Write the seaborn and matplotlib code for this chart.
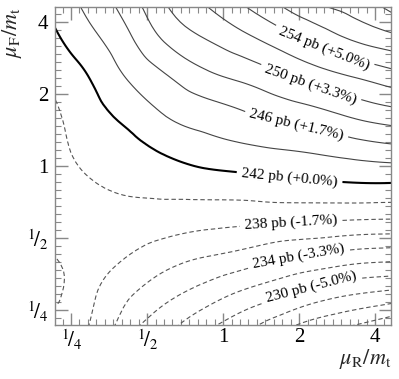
import numpy as np
import matplotlib
matplotlib.use("Agg")
import matplotlib.pyplot as plt
import matplotlib.tri as mtri
from matplotlib.ticker import FixedLocator, FixedFormatter, NullFormatter
import seaborn as sns

# ---- data ----
# grid positions: log2(mu/m_t)
log2_muR = [-2.25, -1.75, -1.25, -0.75, -0.25, 0.25, 0.75, 1.25, 1.75, 2.25]
log2_muF = [-2.25, -1.75, -1.25, -0.75, -0.25, 0.25, 0.75, 1.25, 1.75, 2.25]
# cross section [pb], one row per muF value (low -> high), columns muR low -> high
sigma_muF_m225 = [238.6, 237.9, 234.7, 232.5, 230.4, 228.6, 226.5, 224.75, 223.6, 222.0]
sigma_muF_m175 = [240.6, 238.4, 236.4, 234.7, 233.3, 231.85, 230.6, 229.25, 228.3, 227.7]
sigma_muF_m125 = [240.05, 238.9, 238.0, 236.9, 236.1, 235.4, 234.4, 233.75, 233.1, 232.8]
sigma_muF_m075 = [239.4, 239.4, 239.2, 239.0, 238.7, 238.5, 238.35, 238.2, 238.0, 237.9]
sigma_muF_m025 = [239.5, 239.9, 240.4, 240.7, 241.0, 241.2, 241.5, 241.7, 241.9, 241.9]
sigma_muF_p025 = [239.4, 240.6, 241.4, 242.4, 243.2, 243.7, 244.1, 244.5, 245.1, 245.6]
sigma_muF_p075 = [239.6, 241.3, 242.7, 244.2, 245.1, 245.9, 246.8, 247.6, 248.7, 249.5]
sigma_muF_p125 = [240.5, 242.1, 244.2, 245.9, 247.5, 248.5, 249.75, 251.1, 252.2, 253.3]
sigma_muF_p175 = [241.5, 243.4, 245.6, 248.25, 249.9, 251.3, 252.9, 254.6, 256.2, 257.3]
sigma_muF_p225 = [242.5, 244.6, 247.0, 250.0, 252.0, 254.0, 256.1, 258.0, 259.0, 261.0]

central = 242
levels_below_plain = [220, 222, 224, 226, 228, 232, 236, 240]
levels_below_label = [230, 234, 238]
levels_central = [242]
levels_above_plain = [244, 248, 252, 256, 258, 260, 262]
levels_above_label = [246, 250, 254]
tick_values = [0.25, 0.5, 1, 2, 4]
tick_labels = [r'$^{1}\!/_{4}$', r'$^{1}\!/_{2}$', '1', '2', '4']

# ---- style ----
sns.set_theme(style="ticks")
plt.rcParams['font.family'] = ['Liberation Serif', 'DejaVu Serif']
plt.rcParams['mathtext.fontset'] = 'stix'
plt.rcParams['lines.dashed_pattern'] = [4.0, 2.5]

Z = np.array([sigma_muF_m225, sigma_muF_m175, sigma_muF_m125, sigma_muF_m075,
              sigma_muF_m025, sigma_muF_p025, sigma_muF_p075, sigma_muF_p125,
              sigma_muF_p175, sigma_muF_p225])
U, V = np.meshgrid(log2_muR, log2_muF)
tri = mtri.Triangulation(U.ravel(), V.ravel())
refiner = mtri.UniformTriRefiner(tri)
tri_ref, z_ref = refiner.refine_field(Z.ravel(), subdiv=3)
tri_plot = mtri.Triangulation(2.0 ** tri_ref.x, 2.0 ** tri_ref.y, tri_ref.triangles)

fig = plt.figure(figsize=(3.99, 3.79), dpi=100)
ax = fig.add_axes([55 / 399, 1 - 325 / 379, 336 / 399, 318 / 379])
ax.set_xscale('log', base=2)
ax.set_yscale('log', base=2)

dash_kw = dict(colors='#555555', linewidths=0.8, linestyles='dashed')
solid_kw = dict(colors='#444444', linewidths=0.8, linestyles='solid')
ax.tricontour(tri_plot, z_ref, levels=levels_below_plain, **dash_kw)
cs_below = ax.tricontour(tri_plot, z_ref, levels=levels_below_label, **dash_kw)
ax.tricontour(tri_plot, z_ref, levels=levels_above_plain, **solid_kw)
cs_above = ax.tricontour(tri_plot, z_ref, levels=levels_above_label, **solid_kw)
cs_c = ax.tricontour(tri_plot, z_ref, levels=levels_central, colors='black',
                     linewidths=1.5, linestyles='solid')

def fmt(lev):
    return f"{lev:.0f} pb ({(lev - central) / central * 100:+.1f}%)"

lab_kw = dict(fontsize=11, inline=True, inline_spacing=4, colors='black', fmt=fmt)
ax.clabel(cs_above, manual=[(1.93, 1.39), (2.17, 2.04), (2.47, 2.99)], **lab_kw)
ax.clabel(cs_c, manual=[(1.83, 0.88)], **lab_kw)
ax.clabel(cs_below, manual=[(2.25, 0.306), (2.0, 0.416), (1.86, 0.577)], **lab_kw)

ax.set_xlim(0.216, 4.62)
ax.set_ylim(0.216, 4.62)

minor = [2.0 ** (k / 9) for k in range(-20, 21) if k % 9 != 0]
for axis in (ax.xaxis, ax.yaxis):
    axis.set_major_locator(FixedLocator(tick_values))
    axis.set_major_formatter(FixedFormatter(tick_labels))
    axis.set_minor_locator(FixedLocator(minor))
    axis.set_minor_formatter(NullFormatter())

ax.tick_params(which='both', direction='in', top=True, right=True,
               color='#888888', labelsize=15, labelcolor='black')
ax.tick_params(which='major', length=9, width=1, pad=5)
ax.tick_params(axis='x', which='major', pad=2)
ax.tick_params(which='minor', length=4.5, width=0.8)
for s in ax.spines.values():
    s.set_color('#888888')
    s.set_linewidth(1.0)

ax.set_xlabel(r'$\mu_{\rm R}/m_{\rm t}$', fontsize=16, ha='right', va='center')
ax.xaxis.set_label_coords(1.0, -(359 - 325) / 318)
ax.set_ylabel(r'$\mu_{\rm F}/m_{\rm t}$', fontsize=16, loc='top', labelpad=2)

fig.savefig('out.png', dpi=100)
